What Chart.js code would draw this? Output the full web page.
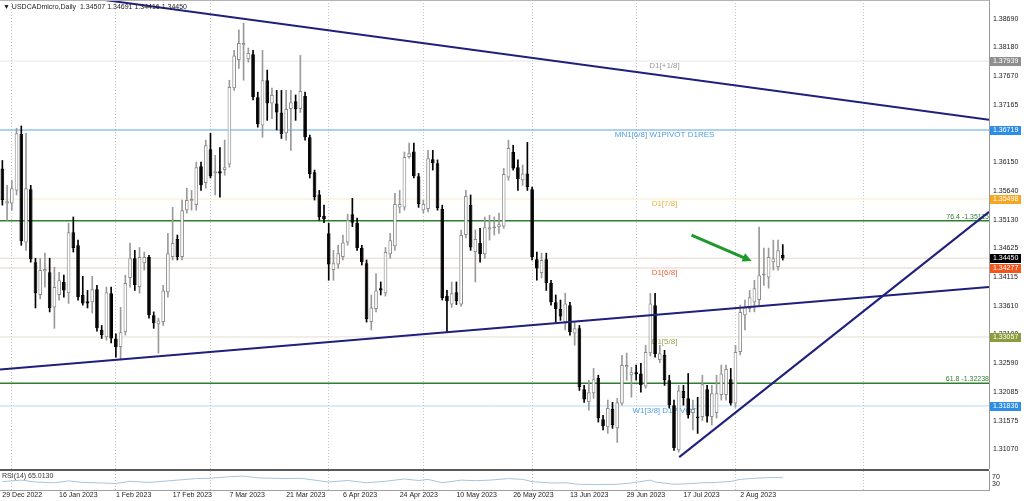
<!DOCTYPE html>
<html>
<head>
<meta charset="utf-8">
<title>USDCADmicro Daily</title>
<script src="https://cdn.jsdelivr.net/npm/chart.js@4.4.0/dist/chart.umd.min.js"></script>
<style>
  body { margin: 0; width: 1024px; height: 501px; overflow: hidden; background: #fff; position: relative;
         font-family: "Liberation Sans", Arial, "DejaVu Sans", sans-serif; }
  #pricePane { position: absolute; left: 0; top: 0; width: 1024px; height: 469px; }
  #rsiPane { position: absolute; left: 0; top: 471px; width: 1024px; height: 30px; }
  #divider { position: absolute; left: 0; top: 469px; width: 989px; height: 2px; background: #5a5a5a; }
  #topLine { position: absolute; left: 0; top: 0; width: 989px; height: 1px; background: #b4b4b4; }
  #title { position: absolute; left: 3px; top: 3px; font-size: 7px; color: #222; white-space: pre; }
  #rsiTitle { position: absolute; left: 2px; top: 472px; font-size: 7px; color: #333; }
</style>
</head>
<body>
<div id="pricePane"><canvas id="priceChart"></canvas></div>
<div id="divider"></div>
<div id="topLine"></div>
<div id="rsiPane"><canvas id="rsiChart"></canvas></div>
<div id="title">▼ USDCADmicro,Daily  1.34507 1.34691 1.34416 1.34450</div>
<div id="rsiTitle">RSI(14) 65.0130</div>
<script>
// daily candles, bar 0 = 29 Dec 2022
let opens = [1.3604, 1.3542, 1.3542, 1.3565, 1.3665, 1.3473, 1.3567, 1.3438, 1.3380, 1.3422,
  1.3420, 1.3358, 1.3380, 1.3403, 1.3383, 1.3491, 1.3468, 1.3380, 1.3369, 1.3367,
  1.3390, 1.3318, 1.3305, 1.3383, 1.3303, 1.3288, 1.3314, 1.3410, 1.3445, 1.3394,
  1.3436, 1.3447, 1.3344, 1.3328, 1.3332, 1.3385, 1.3447, 1.3479, 1.3447, 1.3530,
  1.3546, 1.3539, 1.3608, 1.3578, 1.3638, 1.3595, 1.3599, 1.3601, 1.3611, 1.3746,
  1.3796, 1.3822, 1.3797, 1.3806, 1.3730, 1.3680, 1.3760, 1.3719, 1.3719, 1.3703,
  1.3666, 1.3709, 1.3723, 1.3709, 1.3732, 1.3659, 1.3597, 1.3558, 1.3520, 1.3489,
  1.3424, 1.3434, 1.3447, 1.3473, 1.3523, 1.3508, 1.3463, 1.3436, 1.3332, 1.3355,
  1.3392, 1.3383, 1.3452, 1.3466, 1.3535, 1.3535, 1.3624, 1.3634, 1.3590, 1.3530,
  1.3532, 1.3620, 1.3613, 1.3532, 1.3378, 1.3363, 1.3385, 1.3363, 1.3486, 1.3539,
  1.3456, 1.3472, 1.3452, 1.3496, 1.3498, 1.3500, 1.3501, 1.3588, 1.3633, 1.3606,
  1.3583, 1.3595, 1.3567, 1.3443, 1.3419, 1.3443, 1.3401, 1.3367, 1.3355, 1.3332,
  1.3362, 1.3312, 1.3321, 1.3213, 1.3190, 1.3206, 1.3233, 1.3160, 1.3146, 1.3178,
  1.3144, 1.3188, 1.3252, 1.3238, 1.3243, 1.3241, 1.3218, 1.3277, 1.3362, 1.3265,
  1.3274, 1.3229, 1.3185, 1.3105, 1.3210, 1.3197, 1.3171, 1.3165, 1.3164, 1.3213,
  1.3164, 1.3171, 1.3203, 1.3203, 1.3231, 1.3188, 1.3279, 1.3344, 1.3355, 1.3367,
  1.3371, 1.3415, 1.3411, 1.3438, 1.3429, 1.34507];
let highs = [1.3618, 1.3574, 1.3583, 1.3675, 1.3679, 1.3666, 1.3574, 1.3445, 1.3445, 1.3454,
  1.3445, 1.3429, 1.3420, 1.3415, 1.3507, 1.3518, 1.3477, 1.3413, 1.3388, 1.3413,
  1.3397, 1.3326, 1.3394, 1.3394, 1.3311, 1.3358, 1.3415, 1.3472, 1.3459, 1.3464,
  1.3456, 1.3450, 1.3350, 1.3339, 1.3397, 1.3489, 1.3535, 1.3486, 1.3548, 1.3569,
  1.3565, 1.3615, 1.3615, 1.3654, 1.3666, 1.3627, 1.3641, 1.3654, 1.3760, 1.3813,
  1.3849, 1.3861, 1.3817, 1.3813, 1.3739, 1.3813, 1.3778, 1.3746, 1.3742, 1.3742,
  1.3742, 1.3742, 1.3734, 1.3804, 1.3739, 1.3663, 1.3601, 1.3565, 1.3539, 1.3507,
  1.3459, 1.3468, 1.3486, 1.3523, 1.3551, 1.3516, 1.3468, 1.3442, 1.3380, 1.3418,
  1.3403, 1.3464, 1.3489, 1.3560, 1.3565, 1.3633, 1.3649, 1.3649, 1.3595, 1.3548,
  1.3636, 1.3636, 1.3619, 1.3539, 1.3388, 1.3403, 1.3403, 1.3495, 1.3565, 1.3557,
  1.3495, 1.3498, 1.3518, 1.3521, 1.3518, 1.3525, 1.3604, 1.3654, 1.3645, 1.3619,
  1.3610, 1.3650, 1.3571, 1.3456, 1.3454, 1.3454, 1.3406, 1.3380, 1.3371, 1.3383,
  1.3367, 1.3332, 1.3326, 1.3220, 1.3229, 1.3250, 1.3238, 1.3167, 1.3194, 1.3190,
  1.3197, 1.3273, 1.3277, 1.3252, 1.3256, 1.3259, 1.3291, 1.3383, 1.3383, 1.3291,
  1.3282, 1.3238, 1.3194, 1.3220, 1.3220, 1.3241, 1.3194, 1.3199, 1.3238, 1.3220,
  1.3220, 1.3238, 1.3256, 1.3256, 1.3250, 1.3291, 1.3362, 1.3371, 1.3388, 1.3406,
  1.3500, 1.3463, 1.3463, 1.3477, 1.3477, 1.34691];
let lows = [1.3539, 1.3512, 1.3530, 1.3557, 1.3468, 1.3459, 1.3438, 1.3357, 1.3373, 1.3394,
  1.3350, 1.3321, 1.3371, 1.3376, 1.3365, 1.3456, 1.3371, 1.3362, 1.3357, 1.3348,
  1.3316, 1.3303, 1.3300, 1.3295, 1.3270, 1.3265, 1.3309, 1.3394, 1.3388, 1.3383,
  1.3424, 1.3339, 1.3321, 1.3277, 1.3326, 1.3376, 1.3442, 1.3442, 1.3442, 1.3525,
  1.3530, 1.3530, 1.3565, 1.3569, 1.3587, 1.3557, 1.3553, 1.3592, 1.3606, 1.3742,
  1.3781, 1.3760, 1.3792, 1.3725, 1.3677, 1.3659, 1.3689, 1.3692, 1.3672, 1.3657,
  1.3654, 1.3636, 1.3689, 1.3703, 1.3654, 1.3587, 1.3548, 1.3512, 1.3508, 1.3406,
  1.3406, 1.3427, 1.3442, 1.3468, 1.3501, 1.3459, 1.3433, 1.3332, 1.3318, 1.3350,
  1.3380, 1.3378, 1.3445, 1.3459, 1.3525, 1.3530, 1.3622, 1.3587, 1.3535, 1.3525,
  1.3527, 1.3601, 1.3530, 1.3371, 1.3314, 1.3358, 1.3363, 1.3360, 1.3481, 1.3459,
  1.3403, 1.3438, 1.3445, 1.3477, 1.3486, 1.3489, 1.3498, 1.3583, 1.3601, 1.3565,
  1.3574, 1.3565, 1.3442, 1.3406, 1.3410, 1.3388, 1.3362, 1.3332, 1.3335, 1.3318,
  1.3309, 1.3291, 1.3211, 1.3190, 1.3176, 1.3197, 1.3155, 1.3141, 1.3135, 1.3144,
  1.3119, 1.3185, 1.3229, 1.3199, 1.3229, 1.3208, 1.3215, 1.3272, 1.3270, 1.3260,
  1.3220, 1.3180, 1.3105, 1.3102, 1.3185, 1.3162, 1.3141, 1.3135, 1.3158, 1.3155,
  1.3150, 1.3162, 1.3194, 1.3194, 1.3185, 1.3181, 1.3274, 1.3318, 1.3350, 1.3350,
  1.3362, 1.3397, 1.3392, 1.3424, 1.3424, 1.34416];
let closes = [1.3548, 1.3546, 1.3569, 1.3666, 1.3475, 1.3569, 1.3443, 1.3383, 1.3424, 1.3426,
  1.3357, 1.3394, 1.3406, 1.3388, 1.3491, 1.3463, 1.3376, 1.3365, 1.3365, 1.3390,
  1.3321, 1.3309, 1.3385, 1.3303, 1.3288, 1.3314, 1.3401, 1.3445, 1.3397, 1.3447,
  1.3447, 1.3344, 1.3330, 1.3335, 1.3388, 1.3454, 1.3472, 1.3447, 1.3530, 1.3548,
  1.3550, 1.3606, 1.3574, 1.3645, 1.3590, 1.3599, 1.3595, 1.3606, 1.3748, 1.3804,
  1.3826, 1.3826, 1.3808, 1.3730, 1.3682, 1.3760, 1.3719, 1.3734, 1.3703, 1.3665,
  1.3709, 1.3721, 1.3709, 1.3741, 1.3659, 1.3594, 1.3553, 1.3518, 1.3514, 1.3434,
  1.3436, 1.3454, 1.3473, 1.3512, 1.3508, 1.3463, 1.3438, 1.3337, 1.3358, 1.3388,
  1.3388, 1.3456, 1.3477, 1.3541, 1.3541, 1.3624, 1.3631, 1.3590, 1.3541, 1.3541,
  1.3622, 1.3613, 1.3534, 1.3374, 1.3369, 1.3383, 1.3369, 1.3486, 1.3555, 1.3464,
  1.3479, 1.3452, 1.3500, 1.3500, 1.3501, 1.3505, 1.3594, 1.3640, 1.3604, 1.3585,
  1.3595, 1.3571, 1.3447, 1.3427, 1.3442, 1.3401, 1.3367, 1.3355, 1.3342, 1.3365,
  1.3314, 1.3321, 1.3217, 1.3195, 1.3208, 1.3231, 1.3162, 1.3148, 1.3180, 1.3150,
  1.3190, 1.3256, 1.3256, 1.3243, 1.3240, 1.3220, 1.3279, 1.3365, 1.3275, 1.3277,
  1.3229, 1.3185, 1.3109, 1.3211, 1.3197, 1.3167, 1.3178, 1.3162, 1.3222, 1.3165,
  1.3206, 1.3206, 1.3241, 1.3249, 1.3188, 1.3279, 1.3350, 1.3358, 1.3376, 1.3392,
  1.3415, 1.3418, 1.3447, 1.3445, 1.3459, 1.34450];

// time axis: a label every 12 bars, dotted separators at month starts
let tickBars = [0, 12, 24, 36, 48, 60, 72, 84, 96, 108, 120, 132, 144, 156];
let tickLabels = ["29 Dec 2022", "16 Jan 2023", "1 Feb 2023", "17 Feb 2023", "7 Mar 2023", "21 Mar 2023",
  "6 Apr 2023", "24 Apr 2023", "10 May 2023", "26 May 2023", "13 Jun 2023", "29 Jun 2023",
  "17 Jul 2023", "2 Aug 2023"];
let monthStarts = [2, 24, 44, 69, 89, 112, 134, 155, 182];
let priceTicks = [1.3869, 1.3818, 1.3767, 1.37165, 1.3615, 1.3564, 1.3513, 1.34625, 1.34115,
  1.3361, 1.331, 1.3259, 1.32085, 1.31575, 1.3107];

// horizontal objects on the chart
let levelPrices = [1.37939, 1.36719, 1.35498, 1.35115, 1.34450, 1.34277, 1.33057, 1.32238, 1.31836];
let levelNames = ["D1[+1/8]", "MN1[6/8] W1PIVOT D1RES", "D1[7/8]", "76.4 -1.35115", "",
  "D1[6/8]", "D1[5/8]", "61.8 -1.32238", "W1[3/8] D1PIVOT"];

// trend lines as [bar, price] pairs
let upperTrend = [[19, 1.3905], [208.6, 1.3690]];
let lowerTrend = [[-0.5, 1.3248], [208.6, 1.3394]];
let risingTrend = [[143.1, 1.3093], [208.6, 1.3527]];
let arrowLine = [[145.7, 1.3486], [158.4, 1.3440]];

// RSI(14)
let rsiBars = [0, 4, 7, 11, 14, 17, 21, 24, 27, 31, 35, 38, 41, 44, 48, 51, 54, 57, 60, 63, 66, 69,
  73, 77, 81, 85, 88, 90, 93, 97, 100, 103, 107, 110, 112, 116, 119, 122, 126, 130, 133, 137,
  138, 142, 145, 148, 151, 154, 156, 158, 160, 163, 165];
let rsiValues = [44, 52, 42, 38, 48, 40, 37, 34, 46, 40, 48, 54, 60, 62, 70, 73, 64, 62, 60, 62, 52, 42,
  50, 38, 46, 58, 50, 56, 38, 52, 49, 52, 60, 56, 44, 37, 38, 30, 29, 30, 37, 52,
  42, 30, 33, 38, 40, 45, 56, 60, 63, 66, 65];

let xMin = -0.5;
let xMax = 208.6;
let fontFamily = "'Liberation Sans', Arial, sans-serif";

// colours per level, same order as levelPrices
let levelStyles = [
  { line: "#e6e6e6", text: "#9b9b9b", tag: "#8e8e8e" },
  { line: "#5aa5e2", text: "#4f9fdf", tag: "#2e8de6" },
  { line: "#f6eac8", text: "#f2ae3c", tag: "#f6a623" },
  { line: "#2f7f2f", text: "#2f7f2f", fib: true, width: 1.5 },
  { line: "#e8d6cc", tag: "#000000" },
  { line: "#e8cfc2", text: "#e8683e", tag: "#f2561f" },
  { line: "#e4dfd2", text: "#9aa352", tag: "#8d9c3b" },
  { line: "#2f7f2f", text: "#2f7f2f", fib: true, width: 1.5 },
  { line: "#b9d9f3", text: "#4f9fdf", tag: "#2e8de6" }
];

Chart.defaults.font.family = fontFamily;
Chart.defaults.font.size = 7;

let bars = opens.map((o, i) => i);
let isUp = bars.map((i) => closes[i] >= opens[i]);
let toPoints = (pairs) => pairs.map((p) => ({ x: p[0], y: p[1] }));

let trendStyle = { type: "line", borderColor: "#1f1f7c", borderWidth: 2, pointRadius: 0, order: 0 };

let datasets = [
  Object.assign({ data: toPoints(upperTrend) }, trendStyle),
  Object.assign({ data: toPoints(lowerTrend) }, trendStyle),
  Object.assign({ data: toPoints(risingTrend) }, trendStyle),
  {
    type: "bar",
    data: bars.map((i) => ({ x: i, y: [opens[i], closes[i]] })),
    backgroundColor: bars.map((i) => (isUp[i] ? "#ffffff" : "#000000")),
    borderColor: bars.map((i) => (isUp[i] ? "#8c8c8c" : "#000000")),
    borderWidth: 1,
    borderSkipped: false,
    minBarLength: 1.5,
    grouped: false,
    barPercentage: 0.78,
    categoryPercentage: 1,
    order: 1,
  },
  {
    type: "bar",
    data: bars.map((i) => ({ x: i, y: [lows[i], highs[i]] })),
    backgroundColor: bars.map((i) => (isUp[i] ? "#9a9a9a" : "#000000")),
    barThickness: 1,
    grouped: false,
    order: 2,
  },
];
levelPrices.forEach((p, i) => {
  datasets.push({
    type: "line",
    data: [{ x: xMin, y: p }, { x: xMax, y: p }],
    borderColor: levelStyles[i].line,
    borderWidth: levelStyles[i].width || 1,
    pointRadius: 0,
    order: 3,
  });
});

// level captions under the candles, arrow + axis tags on top
let levelMarks = {
  id: "levelMarks",
  beforeDatasetsDraw(chart) {
    let { ctx, chartArea, scales } = chart;
    ctx.save();
    levelPrices.forEach((p, i) => {
      let st = levelStyles[i];
      if (!levelNames[i]) return;
      let py = scales.y.getPixelForValue(p);
      ctx.fillStyle = st.text;
      if (st.fib) {
        ctx.font = "7px " + fontFamily;
        ctx.textAlign = "right";
        ctx.textBaseline = "bottom";
        ctx.fillText(levelNames[i], chartArea.right, py - 0.5);
      } else {
        ctx.font = "8px " + fontFamily;
        ctx.textAlign = "center";
        ctx.textBaseline = "top";
        ctx.fillText(levelNames[i], scales.x.getPixelForValue(140), py + 0.5);
      }
    });
    ctx.restore();
  },
  afterDraw(chart) {
    let { ctx, chartArea, scales } = chart;
    ctx.save();
    // green arrow
    let x1 = scales.x.getPixelForValue(arrowLine[0][0]);
    let y1 = scales.y.getPixelForValue(arrowLine[0][1]);
    let x2 = scales.x.getPixelForValue(arrowLine[1][0]);
    let y2 = scales.y.getPixelForValue(arrowLine[1][1]);
    let ang = Math.atan2(y2 - y1, x2 - x1);
    ctx.strokeStyle = "#1e9a2c";
    ctx.fillStyle = "#1e9a2c";
    ctx.lineWidth = 3;
    ctx.beginPath();
    ctx.moveTo(x1, y1);
    ctx.lineTo(x2 - 6 * Math.cos(ang), y2 - 6 * Math.sin(ang));
    ctx.stroke();
    ctx.beginPath();
    ctx.moveTo(x2, y2);
    ctx.lineTo(x2 - 9 * Math.cos(ang) + 4.5 * Math.sin(ang), y2 - 9 * Math.sin(ang) - 4.5 * Math.cos(ang));
    ctx.lineTo(x2 - 9 * Math.cos(ang) - 4.5 * Math.sin(ang), y2 - 9 * Math.sin(ang) + 4.5 * Math.cos(ang));
    ctx.closePath();
    ctx.fill();
    // price tags on the right scale
    ctx.font = "7px " + fontFamily;
    ctx.textAlign = "left";
    ctx.textBaseline = "middle";
    levelPrices.forEach((p, i) => {
      let st = levelStyles[i];
      if (!st.tag) return;
      let py = Math.round(scales.y.getPixelForValue(p));
      ctx.fillStyle = st.tag;
      ctx.fillRect(chartArea.right + 1, py - 4, 31, 9);
      ctx.fillStyle = "#ffffff";
      ctx.fillText(p.toFixed(5), chartArea.right + 4, py + 0.5);
    });
    ctx.restore();
  },
};

new Chart(document.getElementById("priceChart"), {
  type: "bar",
  data: { datasets: datasets },
  plugins: [levelMarks],
  options: {
    responsive: true,
    maintainAspectRatio: false,
    animation: false,
    events: [],
    layout: { padding: 0 },
    plugins: { legend: { display: false }, tooltip: { enabled: false } },
    scales: {
      x: {
        type: "linear",
        min: xMin,
        max: xMax,
        offset: false,
        afterBuildTicks: (a) => { a.ticks = monthStarts.map((v) => ({ value: v })); },
        ticks: { display: false },
        grid: { color: "#c2c2c2", drawTicks: false, offset: false },
        border: { display: false, dash: [1, 2] },
        afterFit: (a) => { a.height = 0; a.paddingLeft = 0; a.paddingRight = 0; },
      },
      y: {
        position: "right",
        min: 1.3072,
        max: 1.3902,
        afterBuildTicks: (a) => { a.ticks = priceTicks.map((v) => ({ value: v })); },
        ticks: { callback: (v) => v.toFixed(5), color: "#222", padding: 4, autoSkip: false },
        grid: { display: false, drawTicks: false },
        border: { display: true, color: "#9a9a9a" },
        afterFit: (a) => { a.width = 35; a.paddingTop = 0; a.paddingBottom = 0; },
      },
    },
  },
});

new Chart(document.getElementById("rsiChart"), {
  type: "line",
  data: {
    datasets: [{
      data: rsiBars.map((b, i) => ({ x: b, y: rsiValues[i] })),
      borderColor: "#a6c6da",
      borderWidth: 1,
      pointRadius: 0,
    }],
  },
  options: {
    responsive: true,
    maintainAspectRatio: false,
    animation: false,
    events: [],
    layout: { padding: 0 },
    plugins: { legend: { display: false }, tooltip: { enabled: false } },
    scales: {
      x: {
        type: "linear",
        min: xMin,
        max: xMax,
        afterBuildTicks: (a) => { a.ticks = tickBars.map((v) => ({ value: v })); },
        ticks: { align: "start", callback: (v, i) => tickLabels[i], color: "#222", padding: 1, maxRotation: 0, autoSkip: false },
        grid: { display: false, drawTicks: false },
        border: { display: true, color: "#a0a0a0" },
        afterFit: (a) => { a.height = 11; a.paddingLeft = 0; a.paddingRight = 0; },
      },
      sep: {
        type: "linear",
        position: "bottom",
        min: xMin,
        max: xMax,
        afterBuildTicks: (a) => { a.ticks = monthStarts.map((v) => ({ value: v })); },
        ticks: { display: false },
        grid: { color: "#c2c2c2", drawTicks: false },
        border: { display: false, dash: [1, 2] },
        afterFit: (a) => { a.height = 0; },
      },
      y: {
        position: "right",
        min: 0,
        max: 100,
        afterBuildTicks: (a) => { a.ticks = [70, 30].map((v) => ({ value: v })); },
        ticks: { color: "#222", padding: 3, autoSkip: false },
        grid: { display: false, drawTicks: false },
        border: { display: true, color: "#9a9a9a" },
        afterFit: (a) => { a.width = 35; a.paddingTop = 0; a.paddingBottom = 0; },
      },
    },
  },
});
</script>
</body>
</html>
